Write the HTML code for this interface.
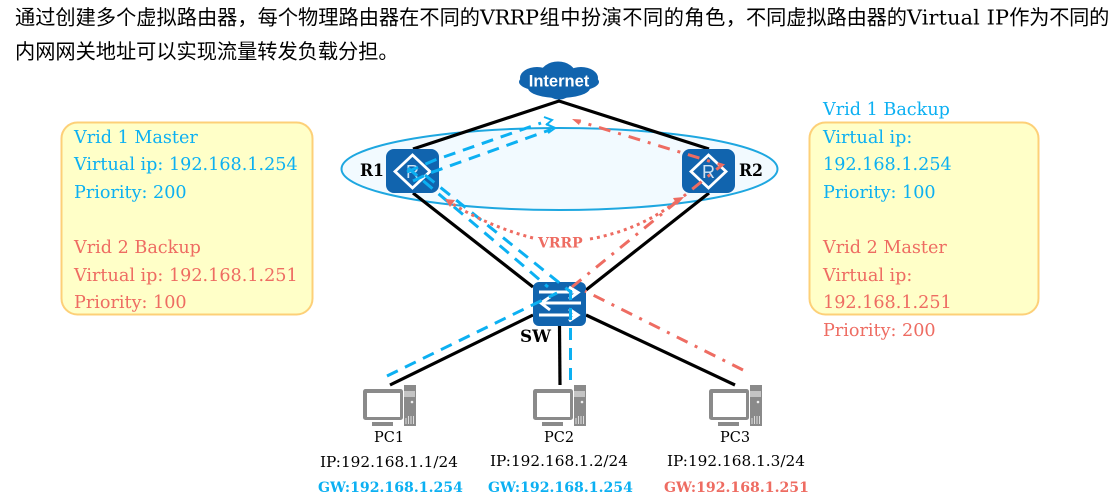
<!DOCTYPE html>
<html><head><meta charset="utf-8"><style>
html,body{margin:0;padding:0;background:#fff;width:1116px;height:502px;overflow:hidden}
svg{display:block}
text{font-family:"DejaVu Serif","WenQuanYi Zen Hei","Noto Sans CJK SC",serif}
.t{font-size:20.2px;fill:#000}
.l{font-size:20.8px;fill:#000}
.v{font-size:17.6px}
.b{fill:#0cb0f2}.r{fill:#ee6c62}
.pc{font-size:15.3px;fill:#000}
.gw{font-size:14.1px;font-weight:bold}
.k{stroke:#000;stroke-width:3.2;fill:none}
.bl{stroke:#0cb0f2;stroke-width:3;fill:none;stroke-dasharray:12 8}
.rd{stroke:#ee6c62;stroke-width:3;fill:none;stroke-dasharray:12 8 3 8}
.dt{stroke:#ee6c62;stroke-width:3;fill:none;stroke-dasharray:3 4}
</style></head><body>
<svg width="1116" height="502" viewBox="0 0 1116 502" xmlns="http://www.w3.org/2000/svg">
<defs>
<g id="router">
<rect x="0" y="0" width="53" height="44" rx="8" fill="#1164ae"/>
<polygon points="26.5,6 44,22.5 26.5,39 9,22.5" fill="none" stroke="#fff" stroke-width="2.800"/>
<text x="26.5" y="29" text-anchor="middle" style="font-family:'Liberation Sans',sans-serif;font-size:18px" fill="#cfe4f5">R</text>
</g>
<g id="pc">
<rect x="41" y="0" width="12" height="41" fill="#8a8a8a"/>
<rect x="41" y="6" width="11" height="6" fill="#c4c4c4"/>
<circle cx="49" cy="17" r="1.3" fill="#eee"/>
<path d="M43 39V33M45.500 39V31M48 39V31M50.500 39V31" stroke="#ddd" stroke-width="1"/>
<rect x="0" y="4" width="40" height="31" rx="2.500" fill="#8a8a8a"/>
<rect x="4" y="8" width="33" height="24" fill="#fff"/>
<rect x="9" y="37" width="21" height="4" fill="#8a8a8a"/>
</g>
</defs>

<text class="t" x="15" y="24.500" textLength="465">通过创建多个虚拟路由器，每个物理路由器在不同的</text>
<text class="l" x="480" y="24.500" textLength="59">VRRP</text>
<text class="t" x="539.500" y="24.500" textLength="206.500">组中扮演不同的角色，</text>
<text class="t" x="746" y="24.500" textLength="161">不同虚拟路由器的</text>
<text class="l" x="907" y="24.500" textLength="102">Virtual IP</text>
<text class="t" x="1009.300" y="24.500" textLength="100">作为不同的</text>
<text class="t" x="15" y="58.500">内网网关地址可以实现流量转发负载分担。</text>

<rect x="61.500" y="122.500" width="251" height="192" rx="16" fill="#ffffc8" stroke="#fdd078" stroke-width="2"/>
<rect x="809.500" y="122.500" width="229" height="192" rx="16" fill="#ffffc8" stroke="#fdd078" stroke-width="2"/>

<g class="v">
<text class="v b" x="74" y="143">Vrid 1 Master</text>
<text class="v b" x="74" y="170">Virtual ip: 192.168.1.254</text>
<text class="v b" x="74" y="198">Priority: 200</text>
<text class="v r" x="74" y="253">Vrid 2 Backup</text>
<text class="v r" x="74" y="281">Virtual ip: 192.168.1.251</text>
<text class="v r" x="74" y="308">Priority: 100</text>
<text class="v b" x="823" y="115">Vrid 1 Backup</text>
<text class="v b" x="823" y="143">Virtual ip:</text>
<text class="v b" x="823" y="170">192.168.1.254</text>
<text class="v b" x="823" y="198">Priority: 100</text>
<text class="v r" x="823" y="253">Vrid 2 Master</text>
<text class="v r" x="823" y="281">Virtual ip:</text>
<text class="v r" x="823" y="308">192.168.1.251</text>
<text class="v r" x="823" y="336">Priority: 200</text>
</g>

<ellipse cx="559.500" cy="169" rx="218" ry="41" fill="#f2faff" stroke="#1ea7e0" stroke-width="2"/>

<path class="k" d="M413 149L559 101L709 149"/>
<path class="k" d="M413 193L533 287"/>
<path class="k" d="M709 193L586 290"/>
<path class="k" d="M533 315L390 385"/>
<path class="k" d="M559.500 326L560 385"/>
<path class="k" d="M586 315L735 385"/>

<g fill="#1164ae">
<ellipse cx="559" cy="82" rx="40" ry="11"/>
<ellipse cx="537" cy="78" rx="17" ry="11"/>
<ellipse cx="581" cy="78" rx="17" ry="11"/>
<ellipse cx="558" cy="75" rx="18" ry="13.500"/>
<ellipse cx="559" cy="88" rx="31" ry="10"/>
<ellipse cx="559" cy="91" rx="12" ry="8.500"/>
</g>
<text x="559" y="86.500" text-anchor="middle" fill="#fff" style="font-family:'Liberation Sans',sans-serif;font-size:16.500px;font-weight:bold">Internet</text>

<use href="#router" x="386" y="149"/>
<use href="#router" x="682" y="149"/>

<rect x="533" y="282" width="53" height="44" rx="6" fill="#1164ae"/>
<g stroke="#fff" stroke-width="3" fill="none">
<path d="M539 292H577M569 287L578 292.500L569 299"/>
<path d="M581 303H543M550 297L541 303L550 310"/>
<path d="M539 315H577M569 309L578 315L569 321"/>
</g>

<use href="#pc" x="363" y="385"/>
<use href="#pc" x="533" y="385"/>
<use href="#pc" x="709" y="385"/>

<path class="bl" d="M407 172L435 160L541 123"/>
<path d="M544 117L552 120L546 125" fill="none" stroke="#0cb0f2" stroke-width="2"/>
<path class="bl" d="M413 181L430 173L551 129.500"/>
<path d="M546 124L555 128L548 133" fill="none" stroke="#0cb0f2" stroke-width="2.200"/>
<path class="bl" d="M408 168L505 250L548 287"/>
<path class="bl" d="M425 175L572 293"/>
<path class="bl" d="M387 376L557 293"/>
<path class="bl" d="M570.500 380V290"/>

<path class="rd" d="M572 287L722 165L578 121"/>
<polygon points="572,119 581,119.500 579,125" fill="#ee6c62"/>
<path class="rd" d="M743 370L585 291"/>

<path class="dt" d="M533 238Q490 227 451 203"/>
<polygon points="445,199 455,200 450,207" fill="#ee6c62"/>
<path class="dt" d="M590 239Q640 230 677 201"/>
<polygon points="684,197 673,198 677,205" fill="#ee6c62"/>

<text x="538" y="247.500" class="r" style="font-size:14px;font-weight:bold">VRRP</text>
<text x="360" y="176" textLength="24" lengthAdjust="spacingAndGlyphs" style="font-size:17px;font-weight:bold" fill="#000">R1</text>
<text x="739" y="176" textLength="24" lengthAdjust="spacingAndGlyphs" style="font-size:17px;font-weight:bold" fill="#000">R2</text>
<text x="520" y="342" textLength="31" lengthAdjust="spacingAndGlyphs" style="font-size:17px;font-weight:bold" fill="#000">SW</text>

<text class="pc" x="374" y="442" style="font-size:14.500px">PC1</text>
<text class="pc" x="544" y="442" style="font-size:14.500px">PC2</text>
<text class="pc" x="720" y="442" style="font-size:14.500px">PC3</text>
<text class="pc" x="320" y="467">IP:192.168.1.1/24</text>
<text class="pc" x="490" y="466">IP:192.168.1.2/24</text>
<text class="pc" x="667" y="466">IP:192.168.1.3/24</text>
<text class="gw b" x="318" y="492">GW:192.168.1.254</text>
<text class="gw b" x="488" y="492">GW:192.168.1.254</text>
<text class="gw r" x="664" y="492">GW:192.168.1.251</text>
</svg>
</body></html>
